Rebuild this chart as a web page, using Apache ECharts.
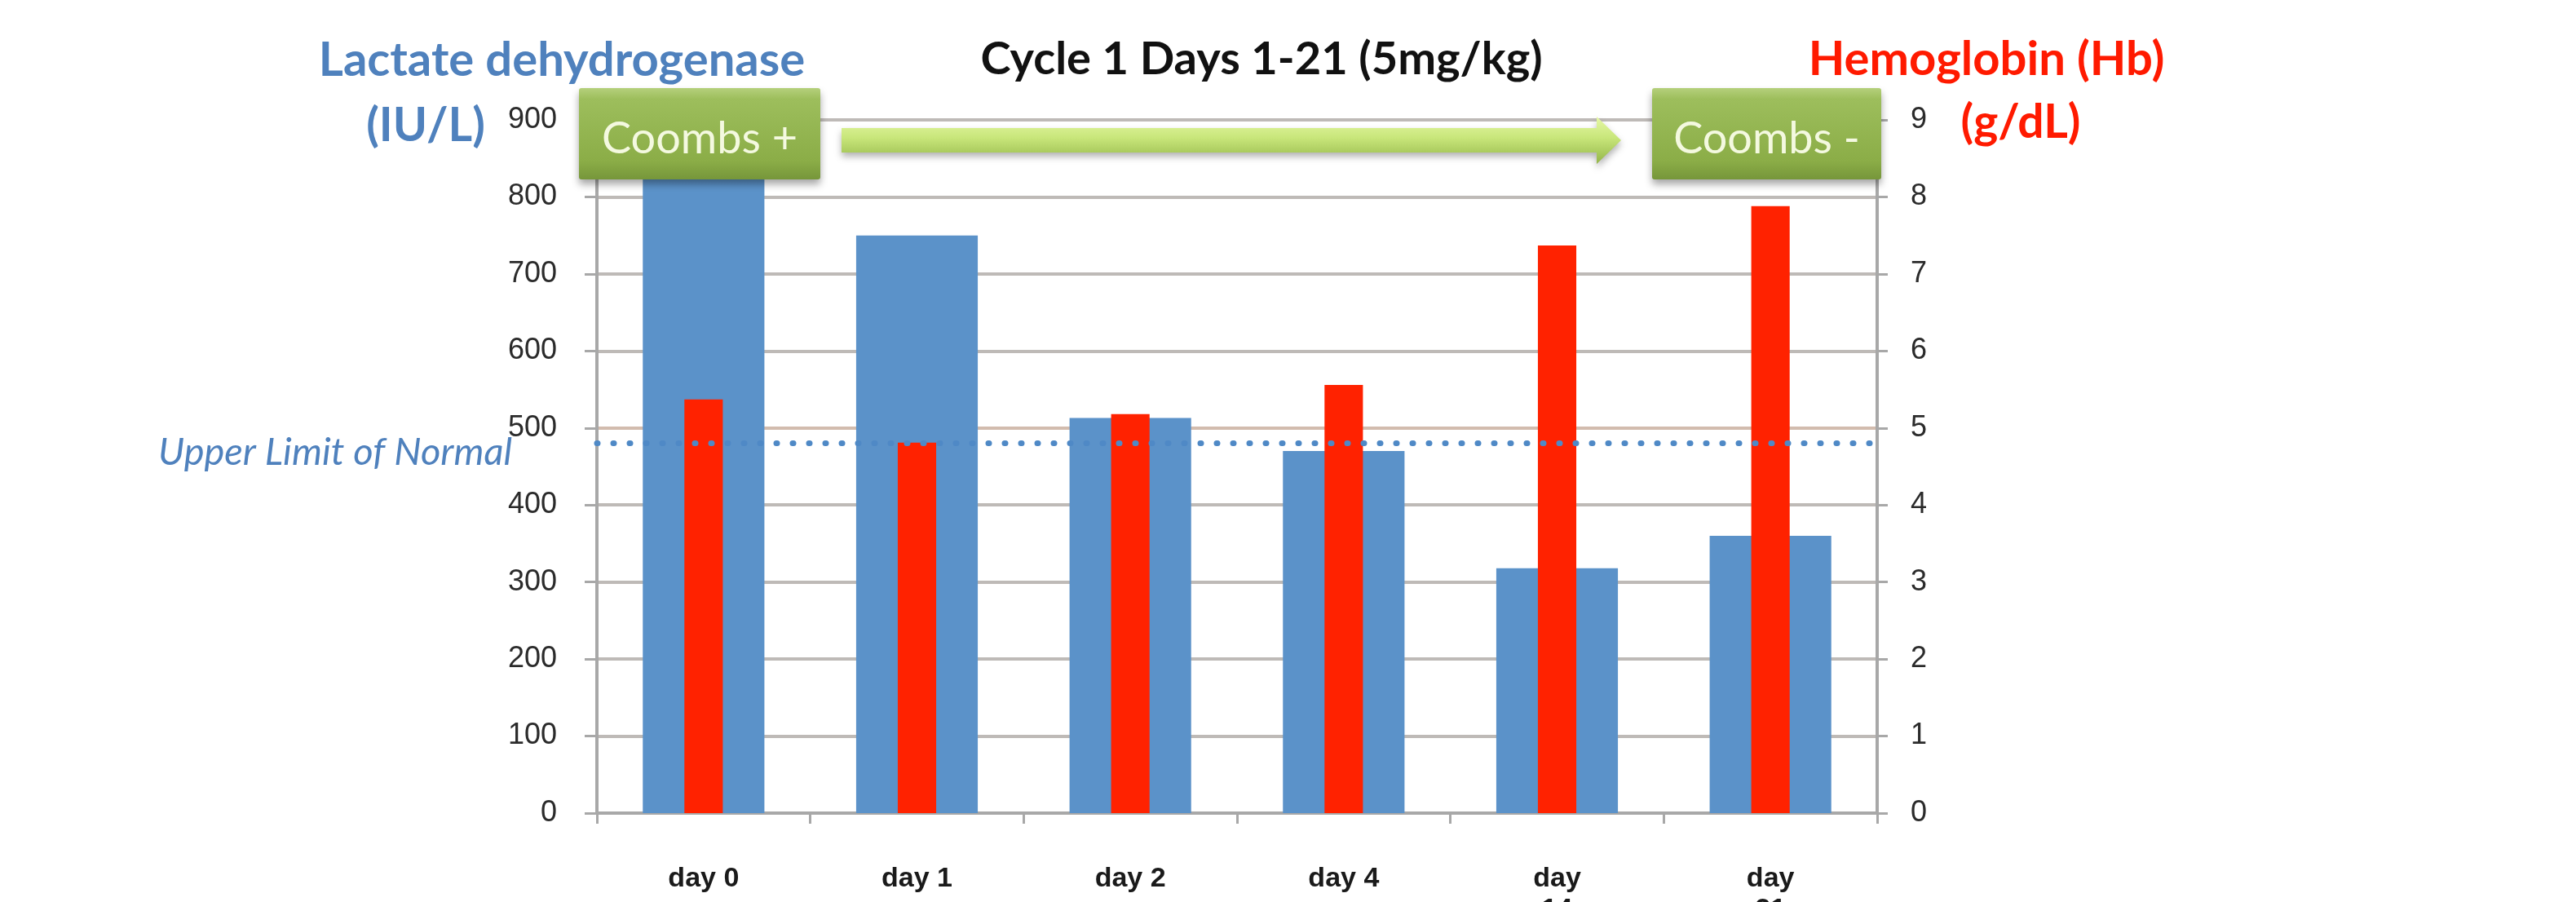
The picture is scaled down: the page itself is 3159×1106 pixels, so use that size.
<!DOCTYPE html>
<html>
<head>
<meta charset="utf-8">
<title>LDH and Hb, Cycle 1</title>
<script src="https://cdn.jsdelivr.net/npm/echarts@6/dist/echarts.min.js"></script>
<style>
  html, body { margin: 0; padding: 0; background: #ffffff; overflow: hidden; }
  #chart { width: 3159px; height: 1106px; }
</style>
</head>
<body>
<div id="chart"></div>
<script>
// Study days (labels wrap where the original did)
const days = ['day 0', 'day 1', 'day 2', 'day 4', 'day\n14', 'day\n21'];
// Lactate dehydrogenase, IU/L (left axis)
const ldh = [870, 750, 513, 470, 318, 360];
// Hemoglobin, g/dL (right axis)
const hb = [5.37, 4.81, 5.18, 5.56, 7.37, 7.88];
// Left and right axis ranges
const ldhTicks = { min: 0, max: 900, interval: 100 };
const hbTicks = { min: 0, max: 9, interval: 1 };
// Upper limit of normal for LDH
const ldhUpperLimit = 480;

const BLUE = '#5B92C9';
const RED = '#FF2200';
const GRID_GRAY = '#BEBAB7';
const AXIS_GRAY = '#A8A8A8';

const chart = echarts.init(document.getElementById('chart'), null, { renderer: 'canvas' });

// green call-out box with text
function coombsBox(x, y, w, h, text) {
  return {
    type: 'group',
    z: 100,
    children: [
      {
        type: 'rect',
        z: 100,
        shape: { x: x, y: y, width: w, height: h, r: 3 },
        style: {
          fill: new echarts.graphic.LinearGradient(0, 0, 0, 1, [
            { offset: 0, color: '#B5D07C' },
            { offset: 0.12, color: '#9DBE5C' },
            { offset: 0.8, color: '#8BAD47' },
            { offset: 1, color: '#76963A' }
          ]),
          shadowBlur: 10,
          shadowOffsetY: 6,
          shadowColor: 'rgba(0,0,0,0.35)'
        }
      },
      {
        type: 'text',
        z: 101,
        style: {
          x: x + w / 2, y: y + h / 2 + 7,
          text: text,
          fill: '#F4F9E0',
          font: '54px Lato',
          align: 'center', verticalAlign: 'middle'
        }
      }
    ]
  };
}

const option = {
  backgroundColor: '#ffffff',
  animation: false,
  grid: {
    left: 732, right: 857, top: 147, bottom: 109,
    containLabel: false,
    outerBoundsMode: 'none'
  },
  xAxis: [
    {
      type: 'category',
      data: days,
      axisLine: { lineStyle: { color: AXIS_GRAY, width: 4 } },
      axisTick: { show: true, length: 13, lineStyle: { color: AXIS_GRAY, width: 3 } },
      axisLabel: {
        interval: 0, margin: 62,
        color: '#1a1a1a', fontFamily: 'Liberation Sans', fontWeight: 'bold', fontSize: 34,
        lineHeight: 38
      }
    },
    {
      type: 'category',
      data: days,
      show: false
    }
  ],
  yAxis: [
    {
      type: 'value',
      min: ldhTicks.min, max: ldhTicks.max, interval: ldhTicks.interval,
      axisLine: { show: true, lineStyle: { color: AXIS_GRAY, width: 4 } },
      axisTick: { show: true, length: 15, lineStyle: { color: AXIS_GRAY, width: 3 } },
      axisLabel: { margin: 49, color: '#2b2b2b', fontFamily: 'Liberation Sans', fontSize: 36 },
      splitLine: {
        lineStyle: {
          color: [GRID_GRAY, GRID_GRAY, GRID_GRAY, GRID_GRAY, GRID_GRAY, '#D2BCAE',
                  GRID_GRAY, GRID_GRAY, GRID_GRAY, GRID_GRAY],
          width: 4
        }
      }
    },
    {
      type: 'value',
      position: 'right',
      min: hbTicks.min, max: hbTicks.max, interval: hbTicks.interval,
      axisLine: { show: true, lineStyle: { color: AXIS_GRAY, width: 4 } },
      axisTick: { show: true, length: 13, lineStyle: { color: AXIS_GRAY, width: 3 } },
      axisLabel: { margin: 41, color: '#2b2b2b', fontFamily: 'Liberation Sans', fontSize: 36 },
      splitLine: { show: false }
    }
  ],
  series: [
    {
      name: 'Lactate dehydrogenase (IU/L)',
      type: 'bar',
      xAxisIndex: 0,
      yAxisIndex: 0,
      data: ldh,
      barWidth: '57%',
      itemStyle: { color: BLUE },
      markLine: {
        silent: true,
        symbol: 'none',
        label: { show: false },
        lineStyle: { color: '#4F89C6', width: 7, type: [1, 19], cap: 'round' },
        data: [{ yAxis: ldhUpperLimit }]
      }
    },
    {
      name: 'Hemoglobin (g/dL)',
      type: 'bar',
      xAxisIndex: 1,
      yAxisIndex: 1,
      data: hb,
      barWidth: '18%',
      itemStyle: { color: RED }
    }
  ],
  graphic: [
    {
      type: 'text', z: 100,
      style: {
        x: 1547, y: 73, text: 'Cycle 1 Days 1-21 (5mg/kg)',
        fill: '#111111', font: 'bold 56px Lato', align: 'center', verticalAlign: 'middle'
      }
    },
    {
      type: 'text', z: 100,
      style: {
        x: 689, y: 74, text: 'Lactate dehydrogenase',
        fill: '#4F81BD', font: 'bold 58px Lato', align: 'center', verticalAlign: 'middle'
      }
    },
    {
      type: 'text', z: 100,
      style: {
        x: 522, y: 155, text: '(IU/L)',
        fill: '#4F81BD', font: 'bold 57px Lato', align: 'center', verticalAlign: 'middle'
      }
    },
    {
      type: 'text', z: 100,
      style: {
        x: 2436, y: 73, text: 'Hemoglobin (Hb)',
        fill: '#FF1A00', font: 'bold 58px Lato', align: 'center', verticalAlign: 'middle'
      }
    },
    {
      type: 'text', z: 100,
      style: {
        x: 2478, y: 151, text: '(g/dL)',
        fill: '#FF1A00', font: 'bold 57px Lato', align: 'center', verticalAlign: 'middle'
      }
    },
    {
      type: 'text', z: 100,
      style: {
        x: 628, y: 555, text: 'Upper Limit of Normal',
        fill: '#4F81BD', font: 'italic 47px Lato', align: 'right', verticalAlign: 'middle'
      }
    },
    // treatment arrow between the two call-outs
    {
      type: 'polygon', z: 99,
      shape: {
        points: [[1032, 157], [1958, 157], [1958, 143], [1988, 172], [1958, 201], [1958, 187], [1032, 187]]
      },
      style: {
        fill: new echarts.graphic.LinearGradient(0, 0, 0, 1, [
          { offset: 0, color: '#E6F8A6' },
          { offset: 0.45, color: '#C8E67A' },
          { offset: 1, color: '#93B548' }
        ]),
        shadowBlur: 8,
        shadowOffsetY: 5,
        shadowColor: 'rgba(0,0,0,0.3)'
      }
    },
    coombsBox(710, 108, 296, 112, 'Coombs +'),
    coombsBox(2026, 108, 281, 112, 'Coombs -')
  ]
};

chart.setOption(option);
</script>
</body>
</html>
